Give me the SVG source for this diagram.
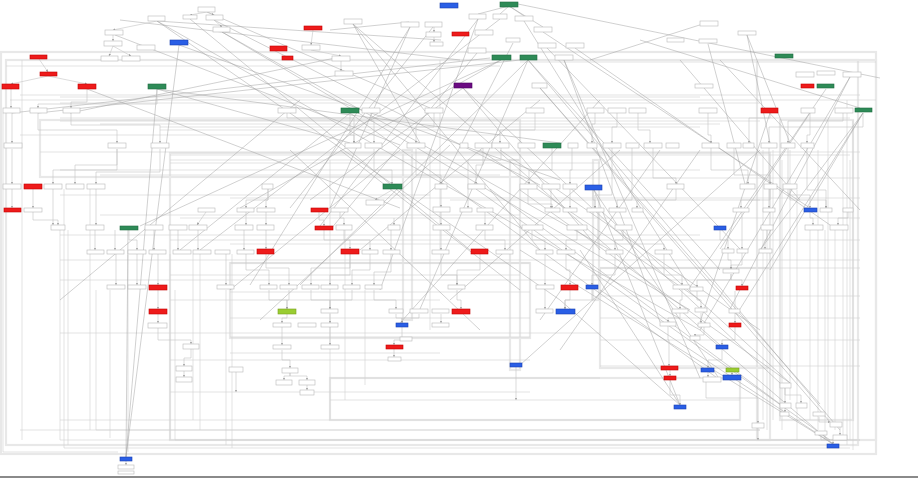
<svg xmlns="http://www.w3.org/2000/svg" width="918" height="478" viewBox="0 0 918 478">
<style>
.n rect{fill:#fff;stroke:#b8b8b8;stroke-width:.6}
.r rect{fill:#ee1b1b;stroke:#c20000;stroke-width:.6}
.b rect{fill:#2a5fe6;stroke:#1a3fb0;stroke-width:.6}
.g rect{fill:#2e8b57;stroke:#1e6b40;stroke-width:.6}
.p rect{fill:#6b0a82;stroke:#4a0060;stroke-width:.6}
.y rect{fill:#9acd32;stroke:#7aa020;stroke-width:.6}
.cl{fill:none;stroke:#e8e8e8;stroke-width:2.2}
.base{fill:none;stroke:#8a8a8a;stroke-width:2}
.o path{fill:none;stroke:#c4c4c4;stroke-width:.6;marker-end:url(#a)}
.d path{fill:none;stroke:#a2a2a2;stroke-width:.5}
.v path{fill:none;stroke:#d0d0d0;stroke-width:.6}
</style>
<defs>
<marker id="a" markerUnits="userSpaceOnUse" markerWidth="2.4" markerHeight="2.4" refX="2.4" refY="1.2" orient="auto"><path d="M0,0L2.4,1.2L0,2.4z" fill="#9a9a9a"/></marker>
</defs>
<rect width="918" height="478" fill="#fff"/>
<g id="clusters">
<rect class="cl" x="1" y="52" width="875" height="402"/>
<rect class="cl" x="6" y="60" width="852" height="385"/>
<rect class="cl" x="757" y="60" width="119" height="380"/>
<rect class="cl" x="780" y="120" width="73" height="300"/>
<rect class="cl" x="170" y="153" width="600" height="287"/>
<rect class="cl" x="510" y="160" width="10" height="210"/>
<rect class="cl" x="403" y="150" width="9" height="170"/>
<rect class="cl" x="593" y="160" width="6" height="140"/>
<rect class="cl" x="230" y="263" width="300" height="75"/>
<rect class="cl" x="40" y="120" width="480" height="57"/>
<rect class="cl" x="600" y="268" width="170" height="100"/>
<rect class="cl" x="330" y="378" width="410" height="42"/>
<path class="base" d="M0 477H918"/>
</g>
<g id="connectors">
<g class="v">
<path d="M3 113V452H118"/><path d="M22 60V440"/><path d="M60 230V440"/><path d="M64 189V448H850"/><path d="M68 230V445"/>
<path d="M90 189V430"/><path d="M96 290V430H760"/><path d="M110 290V438"/><path d="M128 255V452"/><path d="M170 254V440"/>
<path d="M175 290V440H860"/><path d="M193 254V420"/><path d="M200 254V430"/><path d="M226 290V445"/><path d="M232 254V448"/>
<path d="M330 160V420"/><path d="M345 230V400"/><path d="M365 290V385"/><path d="M430 150V330"/><path d="M440 60V250"/>
<path d="M763 150V420"/><path d="M767 230V430"/><path d="M773 150V420"/><path d="M782 160V430"/><path d="M790 150V400"/>
<path d="M797 190V440"/><path d="M810 230V420"/><path d="M818 150V430"/><path d="M825 230V440"/><path d="M828 120V420"/>
<path d="M835 230V430"/><path d="M843 150V440"/><path d="M847 100V445"/><path d="M850 160V440"/><path d="M853 120V450"/>
<path d="M20 95H860"/><path d="M60 97H700"/><path d="M10 100H876"/><path d="M60 118H850"/><path d="M60 121H760"/>
<path d="M100 124H720"/><path d="M160 127H700"/><path d="M160 130H600"/><path d="M20 135H500"/><path d="M40 152H860"/>
<path d="M170 155H850"/><path d="M170 160H520"/><path d="M170 163H600"/><path d="M60 170H700"/><path d="M100 175H500"/>
<path d="M520 178H860"/><path d="M60 195H430"/><path d="M230 198H860"/><path d="M450 200H760"/><path d="M100 215H520"/>
<path d="M180 218H860"/><path d="M60 235H700"/><path d="M170 240H860"/><path d="M230 244H600"/><path d="M60 260H860"/>
<path d="M230 263H530"/><path d="M600 268H860"/><path d="M170 275H520"/><path d="M60 280H760"/><path d="M230 292H530"/>
<path d="M600 296H860"/><path d="M170 300H440"/><path d="M230 318H530"/><path d="M600 318H860"/><path d="M60 333H600"/>
<path d="M230 337H530"/><path d="M600 340H860"/><path d="M230 353H440"/><path d="M170 360H530"/><path d="M600 366H860"/>
<path d="M330 378H600"/><path d="M170 392H530"/><path d="M330 400H740"/><path d="M60 420H740"/><path d="M20 430H760"/>
<path d="M60 440H860"/><path d="M6 66H500"/><path d="M520 62H876"/><path d="M60 103H760"/>
</g>
<g class="d">
<path d="M518 4L880 78"/><path d="M509 6L478 14"/><path d="M509 6L500 14"/><path d="M509 6L524 16"/><path d="M509 6L543 27"/>
<path d="M157 21L700 330"/><path d="M157 21L560 300"/><path d="M190 19L470 250"/><path d="M115 35L400 145"/><path d="M214 20L540 185"/>
<path d="M222 32L690 310"/><path d="M222 32L610 250"/><path d="M353 24L420 143"/><path d="M353 24L540 250"/><path d="M353 24L720 345"/>
<path d="M410 27L330 208"/><path d="M410 27L250 285"/><path d="M433 27L290 208"/><path d="M478 19L320 226"/><path d="M478 19L380 290"/>
<path d="M500 19L200 250"/><path d="M524 21L690 287"/><path d="M543 32L810 208"/><path d="M513 43L441 184"/><path d="M547 48L740 249"/>
<path d="M575 48L830 225"/><path d="M477 53L330 230"/><path d="M501 60L240 208"/><path d="M501 60L140 226"/><path d="M528 60L300 285"/>
<path d="M528 60L420 309"/><path d="M528 60L720 270"/><path d="M528 60L840 430"/><path d="M564 60L700 378"/><path d="M564 60L660 322"/>
<path d="M463 88L310 200"/><path d="M463 88L600 250"/><path d="M463 88L780 383"/><path d="M540 88L830 422"/><path d="M540 88L820 404"/>
<path d="M350 113L720 380"/><path d="M350 113L180 250"/><path d="M157 89L350 143"/><path d="M157 89L560 143"/><path d="M87 89L400 208"/>
<path d="M120 20L460 60"/><path d="M708 44L745 184"/><path d="M747 35L770 143"/><path d="M747 35L790 143"/><path d="M863 113L760 250"/>
<path d="M863 113L770 270"/><path d="M863 113L740 309"/><path d="M850 77L700 330"/><path d="M850 77L730 309"/><path d="M826 89L690 287"/>
<path d="M770 113L700 322"/><path d="M810 113L720 249"/><path d="M594 190L720 380"/><path d="M594 190L680 405"/><path d="M490 189L780 404"/>
<path d="M476 189L830 440"/><path d="M126 457L157 89"/><path d="M126 457L179 45"/><path d="M126 457L128 230"/><path d="M600 290L833 444"/>
<path d="M520 250L833 444"/><path d="M700 330L833 444"/><path d="M560 300L680 405"/><path d="M580 250L680 405"/><path d="M520 190L790 383"/>
<path d="M600 210L790 383"/><path d="M12 113L490 58"/><path d="M38 113L520 60"/><path d="M70 113L340 57"/><path d="M300 100L60 300"/>
<path d="M409 22L330 30"/><path d="M709 22L590 60"/><path d="M157 21L441 40"/><path d="M207 12L430 108"/><path d="M179 45L560 180"/>
<path d="M400 150L230 290"/><path d="M450 145L260 320"/><path d="M620 150L450 300"/><path d="M660 150L540 320"/><path d="M700 150L560 350"/>
<path d="M760 150L520 365"/><path d="M480 150L700 300"/><path d="M500 150L760 330"/><path d="M340 150L520 290"/><path d="M290 150L480 330"/>
<path d="M540 100L360 250"/><path d="M600 100L400 323"/><path d="M680 60L800 200"/><path d="M720 60L860 210"/><path d="M640 40L860 108"/>
</g>
<g class="o">
<path d="M207 12L190 15"/><path d="M207 12L214 15"/><path d="M214 20L222 27"/><path d="M157 21L113 30"/><path d="M113 35V41"/>
<path d="M113 46L109 56"/><path d="M113 46L131 56"/><path d="M39 59L48 72"/><path d="M48 76L11 84"/><path d="M48 76L87 84"/>
<path d="M11 89V108"/><path d="M87 89V102H71V108"/><path d="M157 89V104H38V108"/><path d="M313 30L311 45"/><path d="M311 50L341 56"/>
<path d="M341 61V71"/><path d="M434 27V32"/><path d="M434 37V42"/><path d="M12 113V143"/><path d="M38 113V130H117V143"/>
<path d="M71 113V125H160V143"/><path d="M12 149V184"/><path d="M117 149V170H53V184"/><path d="M117 149V165H75V184"/><path d="M160 149V172H96V184"/>
<path d="M33 189V208"/><path d="M12 189V208"/><path d="M53 189V225"/><path d="M96 189V225"/><path d="M206 212L197 225"/>
<path d="M95 230V250"/><path d="M115 230V250"/><path d="M154 230V250"/><path d="M178 230V250"/><path d="M198 230V250"/>
<path d="M129 230V240H137V250"/><path d="M116 254V285"/><path d="M137 254V285"/><path d="M158 254V285"/><path d="M158 290V309"/>
<path d="M158 314V323"/><path d="M226 254V285"/><path d="M287 113V118H354V143"/><path d="M371 113V121H374V143"/><path d="M434 113V127H416V143"/>
<path d="M350 113V135H354V143"/><path d="M535 113V130H500V143"/><path d="M595 113V124H592V143"/><path d="M617 113V127H612V143"/><path d="M638 113V130H650V143"/>
<path d="M708 113V135H711V143"/><path d="M810 113V135H807V143"/><path d="M843 113V121H788V143"/><path d="M863 113V127H769V143"/><path d="M770 113V118H749V143"/>
<path d="M552 148V170H529V184"/><path d="M483 148V165H476V184"/><path d="M501 148V160H468V208"/><path d="M572 148V170H570V184"/><path d="M612 148V195H595V208"/>
<path d="M632 148V200H617V208"/><path d="M653 148V178H676V184"/><path d="M711 148V170H748V184"/><path d="M734 148V175H770V184"/><path d="M769 148V200H741V208"/>
<path d="M788 148V195H810V208"/><path d="M807 148V190H826V208"/><path d="M374 149V170H392V184"/><path d="M416 149V175H441V184"/><path d="M392 190L375 200"/>
<path d="M441 189V207"/><path d="M268 189V200H246V208"/><path d="M268 189V200H266V208"/><path d="M319 212V220H324V226"/><path d="M340 212V218H344V225"/>
<path d="M246 212V225"/><path d="M266 212V225"/><path d="M394 218V225"/><path d="M441 212V225"/><path d="M485 212V225"/>
<path d="M528 189V204H552V208"/><path d="M551 189V208"/><path d="M570 189V208"/><path d="M593 190V200H595V208"/><path d="M676 189V200H637V208"/>
<path d="M770 189V200H769V208"/><path d="M790 189V200H826V208"/><path d="M810 212V218H813V225"/><path d="M848 212V218H838V225"/><path d="M720 230V240H728V249"/>
<path d="M767 230V240H765V249"/><path d="M742 212V240H742V249"/><path d="M532 230V240H545V250"/><path d="M577 230V240H566V250"/><path d="M623 230V240H615V250"/>
<path d="M485 230V240H505V250"/><path d="M598 212V244H664V250"/><path d="M441 230V250"/><path d="M391 230V250"/><path d="M344 230V240H350V249"/>
<path d="M324 230V240H370V250"/><path d="M266 230V249"/><path d="M244 230V250"/><path d="M246 254V270H269V285"/><path d="M266 254V268H289V285"/>
<path d="M350 254V268H311V285"/><path d="M350 254V275H330V285"/><path d="M370 254V270H352V285"/><path d="M391 254V272H374V285"/><path d="M441 254V275H457V285"/>
<path d="M480 254V270H457V285"/><path d="M545 254V285"/><path d="M566 254V270H570V285"/><path d="M615 254V275H592V285"/><path d="M664 254V275H682V285"/>
<path d="M728 253V260H731V269"/><path d="M742 253V265H731V269"/><path d="M731 274V280H742V286"/><path d="M731 274V280H697V287"/><path d="M545 289V309"/>
<path d="M570 290V300H565V309"/><path d="M592 289V300H565V309"/><path d="M457 290V300H461V309"/><path d="M374 290V300H396V309"/><path d="M352 290V300H330V309"/>
<path d="M289 290V300H287V309"/><path d="M269 290V300H287V309"/><path d="M311 290V300H330V309"/><path d="M419 314V318H402V323"/><path d="M396 314V318H402V323"/>
<path d="M441 314V323"/><path d="M287 314V318H282V323"/><path d="M330 314V323"/><path d="M282 327V345"/><path d="M330 327V345"/>
<path d="M402 327V340H394V345"/><path d="M394 349V357"/><path d="M680 313V318H668V322"/><path d="M668 326V340H669V366"/><path d="M682 289V300H680V309"/>
<path d="M697 291V300H701V308"/><path d="M735 291V318H735V323"/><path d="M701 313V323"/><path d="M704 327V335H695V336"/><path d="M722 349V360H708V368"/>
<path d="M735 327V340H722V345"/><path d="M732 372V375"/><path d="M708 372V377"/><path d="M670 370V376"/><path d="M670 380V395H680V405"/>
<path d="M191 349V358H184V366"/><path d="M184 371V377"/><path d="M282 350V360H290V368"/><path d="M290 373V376H284V380"/><path d="M290 373V376H307V380"/>
<path d="M307 385V390"/><path d="M785 388V403"/><path d="M785 388V395H801V403"/><path d="M785 408V412"/><path d="M819 417V422H830"/>
<path d="M840 427V435"/><path d="M821 435V440H833V444"/><path d="M126 461V465"/><path d="M516 367V400"/><path d="M236 372V392"/>
<path d="M158 328V340H191V344"/><path d="M33 212V220H58V225"/><path d="M406 340V337"/><path d="M758 428V440"/><path d="M706 382V398H758V423"/>
</g>
</g>
<g id="nodes">
<g id="nb1" class="b"><rect x="440" y="3" width="18" height="5"/></g>
<g id="nb2" class="b"><rect x="170" y="40" width="18" height="5"/></g>
<g id="nb3" class="b"><rect x="585" y="185" width="17" height="5"/></g>
<g id="nb4" class="b"><rect x="804" y="208" width="13" height="4"/></g>
<g id="nb5" class="b"><rect x="714" y="226" width="12" height="4"/></g>
<g id="nb6" class="b"><rect x="586" y="285" width="12" height="4"/></g>
<g id="nb7" class="b"><rect x="556" y="309" width="19" height="5"/></g>
<g id="nb8" class="b"><rect x="396" y="323" width="12" height="4"/></g>
<g id="nb9" class="b"><rect x="510" y="363" width="12" height="4"/></g>
<g id="nb10" class="b"><rect x="716" y="345" width="12" height="4"/></g>
<g id="nb11" class="b"><rect x="701" y="368" width="13" height="4"/></g>
<g id="nb12" class="b"><rect x="723" y="375" width="18" height="5"/></g>
<g id="nb13" class="b"><rect x="674" y="405" width="12" height="4"/></g>
<g id="nb14" class="b"><rect x="827" y="444" width="12" height="4"/></g>
<g id="nb15" class="b"><rect x="120" y="457" width="12" height="4"/></g>
<g id="nr1" class="r"><rect x="30" y="55" width="17" height="4"/></g>
<g id="nr2" class="r"><rect x="40" y="72" width="17" height="4"/></g>
<g id="nr3" class="r"><rect x="2" y="84" width="17" height="5"/></g>
<g id="nr4" class="r"><rect x="78" y="84" width="18" height="5"/></g>
<g id="nr5" class="r"><rect x="304" y="26" width="18" height="4"/></g>
<g id="nr6" class="r"><rect x="270" y="46" width="17" height="5"/></g>
<g id="nr7" class="r"><rect x="282" y="56" width="11" height="4"/></g>
<g id="nr8" class="r"><rect x="452" y="32" width="17" height="4"/></g>
<g id="nr9" class="r"><rect x="24" y="184" width="18" height="5"/></g>
<g id="nr10" class="r"><rect x="4" y="208" width="17" height="4"/></g>
<g id="nr11" class="r"><rect x="311" y="208" width="17" height="4"/></g>
<g id="nr12" class="r"><rect x="315" y="226" width="18" height="4"/></g>
<g id="nr13" class="r"><rect x="257" y="249" width="17" height="5"/></g>
<g id="nr14" class="r"><rect x="341" y="249" width="18" height="5"/></g>
<g id="nr15" class="r"><rect x="471" y="249" width="17" height="5"/></g>
<g id="nr16" class="r"><rect x="149" y="285" width="18" height="5"/></g>
<g id="nr17" class="r"><rect x="149" y="309" width="18" height="5"/></g>
<g id="nr18" class="r"><rect x="561" y="285" width="17" height="5"/></g>
<g id="nr19" class="r"><rect x="452" y="309" width="18" height="5"/></g>
<g id="nr20" class="r"><rect x="386" y="345" width="17" height="4"/></g>
<g id="nr21" class="r"><rect x="736" y="286" width="12" height="4"/></g>
<g id="nr22" class="r"><rect x="729" y="323" width="12" height="4"/></g>
<g id="nr23" class="r"><rect x="661" y="366" width="17" height="4"/></g>
<g id="nr24" class="r"><rect x="664" y="376" width="12" height="4"/></g>
<g id="nr25" class="r"><rect x="761" y="108" width="17" height="5"/></g>
<g id="nr26" class="r"><rect x="801" y="84" width="13" height="4"/></g>
<g id="ng1" class="g"><rect x="500" y="2" width="18" height="5"/></g>
<g id="ng2" class="g"><rect x="492" y="55" width="19" height="5"/></g>
<g id="ng3" class="g"><rect x="520" y="55" width="17" height="5"/></g>
<g id="ng4" class="g"><rect x="148" y="84" width="18" height="5"/></g>
<g id="ng5" class="g"><rect x="341" y="108" width="18" height="5"/></g>
<g id="ng6" class="g"><rect x="775" y="54" width="18" height="4"/></g>
<g id="ng7" class="g"><rect x="817" y="84" width="17" height="4"/></g>
<g id="ng8" class="g"><rect x="855" y="108" width="17" height="4"/></g>
<g id="ng9" class="g"><rect x="543" y="143" width="18" height="5"/></g>
<g id="ng10" class="g"><rect x="120" y="226" width="18" height="4"/></g>
<g id="ng11" class="g"><rect x="383" y="184" width="19" height="5"/></g>
<g id="np1" class="p"><rect x="454" y="83" width="18" height="5"/></g>
<g id="ny1" class="y"><rect x="278" y="309" width="18" height="5"/></g>
<g id="ny2" class="y"><rect x="726" y="368" width="13" height="4"/></g>
<g id="w1" class="n"><rect x="198" y="7" width="17" height="5"/></g>
<g id="w2" class="n"><rect x="148" y="16" width="17" height="5"/></g>
<g id="w3" class="n"><rect x="183" y="15" width="14" height="4"/></g>
<g id="w4" class="n"><rect x="206" y="15" width="17" height="5"/></g>
<g id="w5" class="n"><rect x="213" y="27" width="17" height="5"/></g>
<g id="w6" class="n"><rect x="105" y="30" width="18" height="5"/></g>
<g id="w7" class="n"><rect x="104" y="41" width="18" height="5"/></g>
<g id="w8" class="n"><rect x="137" y="45" width="18" height="5"/></g>
<g id="w9" class="n"><rect x="101" y="56" width="17" height="5"/></g>
<g id="w10" class="n"><rect x="122" y="56" width="18" height="5"/></g>
<g id="w11" class="n"><rect x="3" y="108" width="17" height="5"/></g>
<g id="w12" class="n"><rect x="30" y="108" width="17" height="5"/></g>
<g id="w13" class="n"><rect x="63" y="108" width="17" height="5"/></g>
<g id="w14" class="n"><rect x="344" y="19" width="18" height="5"/></g>
<g id="w15" class="n"><rect x="401" y="22" width="18" height="5"/></g>
<g id="w16" class="n"><rect x="425" y="22" width="17" height="5"/></g>
<g id="w17" class="n"><rect x="426" y="32" width="15" height="5"/></g>
<g id="w18" class="n"><rect x="430" y="42" width="13" height="4"/></g>
<g id="w19" class="n"><rect x="302" y="45" width="18" height="5"/></g>
<g id="w20" class="n"><rect x="332" y="56" width="18" height="5"/></g>
<g id="w21" class="n"><rect x="335" y="71" width="18" height="5"/></g>
<g id="w22" class="n"><rect x="278" y="108" width="18" height="5"/></g>
<g id="w23" class="n"><rect x="362" y="108" width="18" height="5"/></g>
<g id="w24" class="n"><rect x="425" y="108" width="18" height="5"/></g>
<g id="w25" class="n"><rect x="469" y="14" width="17" height="5"/></g>
<g id="w26" class="n"><rect x="493" y="14" width="14" height="5"/></g>
<g id="w27" class="n"><rect x="515" y="16" width="18" height="5"/></g>
<g id="w28" class="n"><rect x="475" y="30" width="18" height="5"/></g>
<g id="w29" class="n"><rect x="534" y="27" width="18" height="5"/></g>
<g id="w30" class="n"><rect x="506" y="38" width="14" height="4"/></g>
<g id="w31" class="n"><rect x="538" y="43" width="18" height="5"/></g>
<g id="w32" class="n"><rect x="566" y="43" width="18" height="5"/></g>
<g id="w33" class="n"><rect x="468" y="48" width="18" height="5"/></g>
<g id="w34" class="n"><rect x="555" y="55" width="18" height="5"/></g>
<g id="w35" class="n"><rect x="667" y="38" width="17" height="4"/></g>
<g id="w36" class="n"><rect x="532" y="83" width="15" height="5"/></g>
<g id="w37" class="n"><rect x="526" y="108" width="18" height="5"/></g>
<g id="w38" class="n"><rect x="587" y="108" width="17" height="5"/></g>
<g id="w39" class="n"><rect x="608" y="108" width="18" height="5"/></g>
<g id="w40" class="n"><rect x="629" y="108" width="17" height="5"/></g>
<g id="w41" class="n"><rect x="700" y="21" width="18" height="5"/></g>
<g id="w42" class="n"><rect x="738" y="31" width="18" height="4"/></g>
<g id="w43" class="n"><rect x="699" y="39" width="18" height="4"/></g>
<g id="w44" class="n"><rect x="796" y="72" width="18" height="5"/></g>
<g id="w45" class="n"><rect x="817" y="71" width="18" height="4"/></g>
<g id="w46" class="n"><rect x="843" y="72" width="18" height="5"/></g>
<g id="w47" class="n"><rect x="695" y="84" width="18" height="4"/></g>
<g id="w48" class="n"><rect x="801" y="108" width="14" height="5"/></g>
<g id="w49" class="n"><rect x="835" y="108" width="18" height="5"/></g>
<g id="w50" class="n"><rect x="699" y="108" width="18" height="5"/></g>
<g id="w51" class="n"><rect x="4" y="143" width="18" height="5"/></g>
<g id="w52" class="n"><rect x="108" y="143" width="18" height="5"/></g>
<g id="w53" class="n"><rect x="151" y="143" width="18" height="5"/></g>
<g id="w54" class="n"><rect x="3" y="184" width="18" height="5"/></g>
<g id="w55" class="n"><rect x="44" y="184" width="18" height="5"/></g>
<g id="w56" class="n"><rect x="66" y="184" width="18" height="5"/></g>
<g id="w57" class="n"><rect x="87" y="184" width="18" height="5"/></g>
<g id="w58" class="n"><rect x="24" y="208" width="18" height="4"/></g>
<g id="w59" class="n"><rect x="51" y="225" width="14" height="5"/></g>
<g id="w60" class="n"><rect x="86" y="225" width="18" height="5"/></g>
<g id="w61" class="n"><rect x="145" y="225" width="18" height="5"/></g>
<g id="w62" class="n"><rect x="169" y="225" width="18" height="5"/></g>
<g id="w63" class="n"><rect x="189" y="225" width="18" height="5"/></g>
<g id="w64" class="n"><rect x="198" y="208" width="17" height="4"/></g>
<g id="w65" class="n"><rect x="345" y="143" width="16" height="5"/></g>
<g id="w66" class="n"><rect x="365" y="143" width="17" height="5"/></g>
<g id="w67" class="n"><rect x="407" y="143" width="18" height="5"/></g>
<g id="w68" class="n"><rect x="262" y="184" width="11" height="5"/></g>
<g id="w69" class="n"><rect x="435" y="184" width="12" height="5"/></g>
<g id="w70" class="n"><rect x="237" y="208" width="17" height="4"/></g>
<g id="w71" class="n"><rect x="257" y="208" width="18" height="4"/></g>
<g id="w72" class="n"><rect x="331" y="208" width="17" height="4"/></g>
<g id="w73" class="n"><rect x="366" y="200" width="18" height="5"/></g>
<g id="w74" class="n"><rect x="235" y="225" width="18" height="5"/></g>
<g id="w75" class="n"><rect x="257" y="225" width="17" height="5"/></g>
<g id="w76" class="n"><rect x="336" y="225" width="16" height="5"/></g>
<g id="w77" class="n"><rect x="388" y="225" width="12" height="5"/></g>
<g id="w78" class="n"><rect x="433" y="225" width="17" height="5"/></g>
<g id="w79" class="n"><rect x="433" y="207" width="17" height="5"/></g>
<g id="w80" class="n"><rect x="460" y="143" width="8" height="5"/></g>
<g id="w81" class="n"><rect x="475" y="143" width="17" height="5"/></g>
<g id="w82" class="n"><rect x="492" y="143" width="17" height="5"/></g>
<g id="w83" class="n"><rect x="518" y="143" width="17" height="5"/></g>
<g id="w84" class="n"><rect x="568" y="143" width="10" height="5"/></g>
<g id="w85" class="n"><rect x="587" y="143" width="10" height="5"/></g>
<g id="w86" class="n"><rect x="603" y="143" width="18" height="5"/></g>
<g id="w87" class="n"><rect x="626" y="143" width="13" height="5"/></g>
<g id="w88" class="n"><rect x="644" y="143" width="18" height="5"/></g>
<g id="w89" class="n"><rect x="666" y="143" width="13" height="5"/></g>
<g id="w90" class="n"><rect x="468" y="184" width="17" height="5"/></g>
<g id="w91" class="n"><rect x="520" y="184" width="17" height="5"/></g>
<g id="w92" class="n"><rect x="542" y="184" width="18" height="5"/></g>
<g id="w93" class="n"><rect x="563" y="184" width="14" height="5"/></g>
<g id="w94" class="n"><rect x="667" y="184" width="17" height="5"/></g>
<g id="w95" class="n"><rect x="460" y="208" width="12" height="4"/></g>
<g id="w96" class="n"><rect x="477" y="208" width="16" height="4"/></g>
<g id="w97" class="n"><rect x="545" y="208" width="15" height="4"/></g>
<g id="w98" class="n"><rect x="563" y="208" width="14" height="4"/></g>
<g id="w99" class="n"><rect x="587" y="208" width="17" height="4"/></g>
<g id="w100" class="n"><rect x="609" y="208" width="17" height="4"/></g>
<g id="w101" class="n"><rect x="632" y="208" width="11" height="4"/></g>
<g id="w102" class="n"><rect x="476" y="225" width="17" height="5"/></g>
<g id="w103" class="n"><rect x="522" y="225" width="21" height="5"/></g>
<g id="w104" class="n"><rect x="567" y="225" width="20" height="5"/></g>
<g id="w105" class="n"><rect x="615" y="225" width="17" height="5"/></g>
<g id="w106" class="n"><rect x="702" y="143" width="17" height="5"/></g>
<g id="w107" class="n"><rect x="727" y="143" width="14" height="5"/></g>
<g id="w108" class="n"><rect x="743" y="143" width="11" height="5"/></g>
<g id="w109" class="n"><rect x="761" y="143" width="16" height="5"/></g>
<g id="w110" class="n"><rect x="781" y="143" width="14" height="5"/></g>
<g id="w111" class="n"><rect x="801" y="143" width="13" height="5"/></g>
<g id="w112" class="n"><rect x="740" y="184" width="15" height="5"/></g>
<g id="w113" class="n"><rect x="764" y="184" width="13" height="5"/></g>
<g id="w114" class="n"><rect x="783" y="184" width="14" height="5"/></g>
<g id="w115" class="n"><rect x="733" y="208" width="16" height="4"/></g>
<g id="w116" class="n"><rect x="763" y="208" width="12" height="4"/></g>
<g id="w117" class="n"><rect x="820" y="208" width="12" height="4"/></g>
<g id="w118" class="n"><rect x="843" y="208" width="10" height="4"/></g>
<g id="w119" class="n"><rect x="761" y="225" width="12" height="5"/></g>
<g id="w120" class="n"><rect x="805" y="225" width="18" height="5"/></g>
<g id="w121" class="n"><rect x="830" y="225" width="18" height="5"/></g>
<g id="w122" class="n"><rect x="87" y="250" width="17" height="4"/></g>
<g id="w123" class="n"><rect x="107" y="250" width="17" height="4"/></g>
<g id="w124" class="n"><rect x="128" y="250" width="18" height="4"/></g>
<g id="w125" class="n"><rect x="149" y="250" width="17" height="4"/></g>
<g id="w126" class="n"><rect x="173" y="250" width="18" height="4"/></g>
<g id="w127" class="n"><rect x="193" y="250" width="18" height="4"/></g>
<g id="w128" class="n"><rect x="215" y="250" width="15" height="4"/></g>
<g id="w129" class="n"><rect x="107" y="285" width="18" height="4"/></g>
<g id="w130" class="n"><rect x="128" y="285" width="18" height="4"/></g>
<g id="w131" class="n"><rect x="217" y="285" width="17" height="4"/></g>
<g id="w132" class="n"><rect x="148" y="323" width="19" height="5"/></g>
<g id="w133" class="n"><rect x="183" y="344" width="16" height="5"/></g>
<g id="w134" class="n"><rect x="237" y="250" width="17" height="4"/></g>
<g id="w135" class="n"><rect x="362" y="250" width="16" height="4"/></g>
<g id="w136" class="n"><rect x="383" y="250" width="17" height="4"/></g>
<g id="w137" class="n"><rect x="432" y="250" width="17" height="4"/></g>
<g id="w138" class="n"><rect x="260" y="285" width="17" height="4"/></g>
<g id="w139" class="n"><rect x="280" y="285" width="17" height="4"/></g>
<g id="w140" class="n"><rect x="302" y="285" width="17" height="4"/></g>
<g id="w141" class="n"><rect x="321" y="285" width="17" height="4"/></g>
<g id="w142" class="n"><rect x="343" y="285" width="17" height="4"/></g>
<g id="w143" class="n"><rect x="365" y="285" width="17" height="4"/></g>
<g id="w144" class="n"><rect x="448" y="285" width="17" height="4"/></g>
<g id="w145" class="n"><rect x="321" y="309" width="17" height="4"/></g>
<g id="w146" class="n"><rect x="389" y="309" width="14" height="4"/></g>
<g id="w147" class="n"><rect x="410" y="309" width="18" height="4"/></g>
<g id="w148" class="n"><rect x="432" y="309" width="17" height="4"/></g>
<g id="w149" class="n"><rect x="273" y="323" width="18" height="4"/></g>
<g id="w150" class="n"><rect x="298" y="323" width="18" height="4"/></g>
<g id="w151" class="n"><rect x="321" y="323" width="17" height="4"/></g>
<g id="w152" class="n"><rect x="432" y="323" width="17" height="4"/></g>
<g id="w153" class="n"><rect x="273" y="345" width="18" height="4"/></g>
<g id="w154" class="n"><rect x="321" y="345" width="18" height="4"/></g>
<g id="w155" class="n"><rect x="388" y="357" width="13" height="4"/></g>
<g id="w156" class="n"><rect x="496" y="250" width="17" height="4"/></g>
<g id="w157" class="n"><rect x="536" y="250" width="17" height="4"/></g>
<g id="w158" class="n"><rect x="557" y="250" width="18" height="4"/></g>
<g id="w159" class="n"><rect x="606" y="250" width="17" height="4"/></g>
<g id="w160" class="n"><rect x="655" y="250" width="17" height="4"/></g>
<g id="w161" class="n"><rect x="536" y="285" width="18" height="4"/></g>
<g id="w162" class="n"><rect x="673" y="285" width="17" height="4"/></g>
<g id="w163" class="n"><rect x="536" y="309" width="17" height="4"/></g>
<g id="w164" class="n"><rect x="672" y="309" width="16" height="4"/></g>
<g id="w165" class="n"><rect x="660" y="322" width="16" height="4"/></g>
<g id="w166" class="n"><rect x="722" y="249" width="12" height="4"/></g>
<g id="w167" class="n"><rect x="737" y="249" width="11" height="4"/></g>
<g id="w168" class="n"><rect x="759" y="249" width="13" height="4"/></g>
<g id="w169" class="n"><rect x="723" y="269" width="16" height="4"/></g>
<g id="w170" class="n"><rect x="690" y="287" width="13" height="4"/></g>
<g id="w171" class="n"><rect x="695" y="308" width="12" height="4"/></g>
<g id="w172" class="n"><rect x="729" y="309" width="11" height="4"/></g>
<g id="w173" class="n"><rect x="698" y="323" width="12" height="4"/></g>
<g id="w174" class="n"><rect x="690" y="336" width="10" height="4"/></g>
<g id="w175" class="n"><rect x="703" y="377" width="18" height="5"/></g>
<g id="w176" class="n"><rect x="780" y="383" width="11" height="5"/></g>
<g id="w177" class="n"><rect x="780" y="403" width="11" height="5"/></g>
<g id="w178" class="n"><rect x="796" y="403" width="11" height="5"/></g>
<g id="w179" class="n"><rect x="752" y="423" width="12" height="5"/></g>
<g id="w180" class="n"><rect x="830" y="422" width="12" height="5"/></g>
<g id="w181" class="n"><rect x="833" y="435" width="14" height="5"/></g>
<g id="w182" class="n"><rect x="815" y="431" width="12" height="4"/></g>
<g id="w183" class="n"><rect x="813" y="412" width="12" height="4"/></g>
<g id="w184" class="n"><rect x="780" y="412" width="9" height="4"/></g>
<g id="w185" class="n"><rect x="176" y="366" width="16" height="5"/></g>
<g id="w186" class="n"><rect x="176" y="377" width="16" height="5"/></g>
<g id="w187" class="n"><rect x="229" y="367" width="14" height="5"/></g>
<g id="w188" class="n"><rect x="282" y="368" width="16" height="5"/></g>
<g id="w189" class="n"><rect x="276" y="380" width="16" height="5"/></g>
<g id="w190" class="n"><rect x="299" y="380" width="16" height="5"/></g>
<g id="w191" class="n"><rect x="300" y="390" width="14" height="5"/></g>
<g id="w192" class="n"><rect x="400" y="337" width="12" height="4"/></g>
<g id="w193" class="n"><rect x="118" y="465" width="16" height="4"/></g>
<g id="w194" class="n"><rect x="118" y="471" width="16" height="3"/></g>
</g>
</svg>
